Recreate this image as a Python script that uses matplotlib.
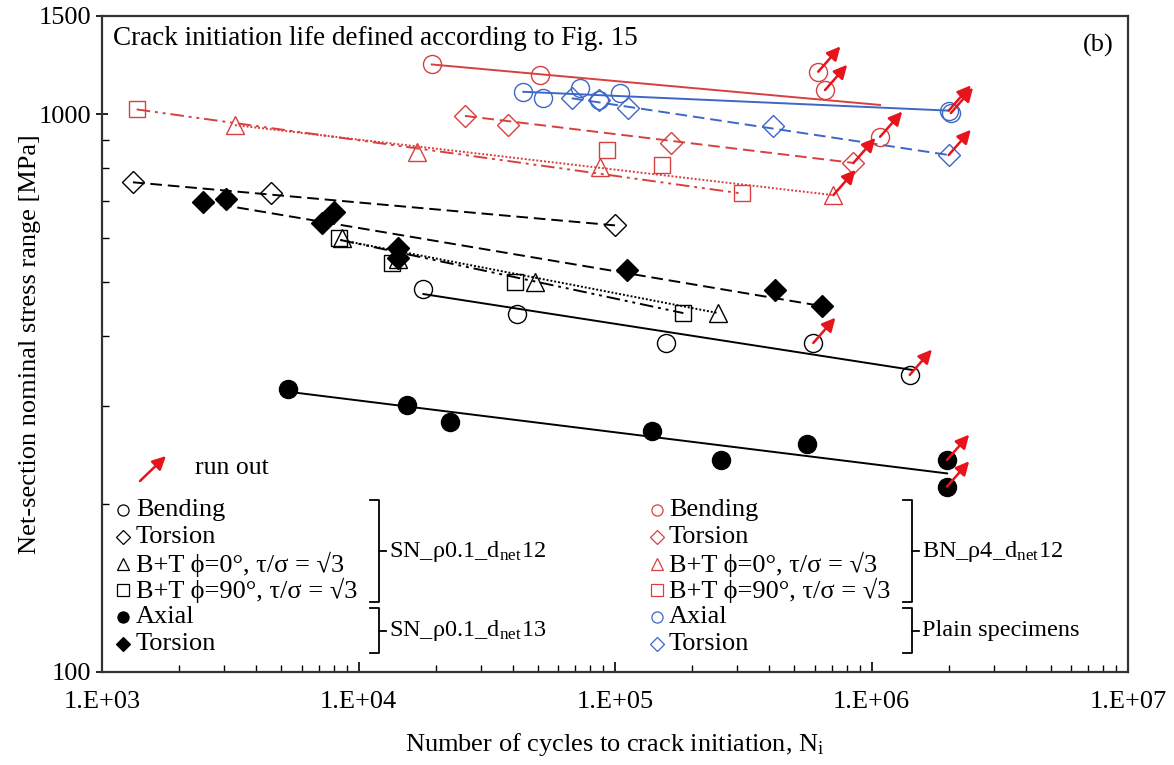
import matplotlib.pyplot as plt
import numpy as np

plt.rcParams['font.family'] = ['Liberation Serif', 'DejaVu Serif']
plt.rcParams['mathtext.fontset'] = 'stix'

# ---- data: N (cycles), S (MPa), run out flag ----
# SN_rho0.1_dnet12
sn_bend_N = [17900, 41400, 158000, 593000, 1410000]
sn_bend_S = [487, 438, 389, 389, 341]
sn_bend_ro = [0, 0, 0, 1, 1]
sn_tors_N = [1320, 4550, 100000]
sn_tors_S = [757, 723, 633]
sn_bt0_N = [8600, 14300, 48700, 252700]
sn_bt0_S = [601, 550, 501, 440]
sn_bt90_N = [8400, 13500, 40700, 184700]
sn_bt90_S = [601, 540, 501, 440]
# SN_rho0.1_dnet13
sn13_ax_N = [5320, 15400, 22700, 140000, 258000, 558000, 1970000, 1970000]
sn13_ax_S = [321, 301, 281, 270, 240, 256, 240, 215]
sn13_ax_ro = [0, 0, 0, 0, 0, 0, 1, 1]
sn13_tors_N = [2470, 3040, 7190, 8050, 14200, 14200, 111000, 420000, 639000]
sn13_tors_S = [697, 704, 637, 669, 575, 552, 526, 484, 453]
# BN_rho4_dnet12
bn_bend_N = [19300, 51000, 620000, 659000, 1080000]
bn_bend_S = [1228, 1176, 1192, 1105, 911]
bn_bend_ro = [0, 0, 1, 1, 1]
bn_tors_N = [26000, 38400, 166000, 849000]
bn_tors_S = [993, 956, 887, 817]
bn_tors_ro = [0, 0, 0, 1]
bn_bt0_N = [3300, 16900, 87400, 710000]
bn_bt0_S = [956, 857, 805, 716]
bn_bt0_ro = [0, 0, 0, 1]
bn_bt90_N = [1365, 92800, 152000, 312000]
bn_bt90_S = [1020, 863, 811, 721]
# plain specimens
pl_ax_N = [43900, 52600, 73000, 87000, 104600, 2000000, 2040000]
pl_ax_S = [1097, 1068, 1113, 1060, 1090, 1015, 1005]
pl_ax_ro = [0, 0, 0, 0, 0, 1, 1]
pl_tors_N = [67800, 87000, 112700, 414000, 2000000]
pl_tors_S = [1068, 1062, 1025, 952, 845]
pl_tors_ro = [0, 0, 0, 0, 1]

# fitted lines (start / end)
sn_bend_fit = ([17900, 1440000], [476, 348])
sn_tors_fit = ([1320, 100000], [755, 632])
sn_bt0_fit = ([8500, 252700], [595, 440])
sn_bt90_fit = ([8500, 184700], [595, 440])
sn13_ax_fit = ([5320, 1970000], [318, 227])
sn13_tors_fit = ([2470, 639000], [697, 453])
bn_bend_fit = ([19300, 1080000], [1228, 1039])
bn_tors_fit = ([26000, 849000], [993, 818])
bn_bt0_fit = ([3300, 710000], [956, 716])
bn_bt90_fit = ([1365, 312000], [1020, 721])
pl_ax_fit = ([43900, 2000000], [1097, 1015])
pl_tors_fit = ([67800, 2000000], [1068, 845])

RED = '#d8403f'
BLUE = '#3e66c6'
ARROW = '#e8141c'
FS = 19

fig = plt.figure(figsize=(11.74, 7.65), dpi=100)
ax = fig.add_axes([102 / 1174, 1 - 672 / 765, 1026 / 1174, 656 / 765])
ax.set_xscale('log')
ax.set_yscale('log')
ax.set_xlim(1e3, 1e7)
ax.set_ylim(100, 1500)


def series(N, S, fit, marker, color, ls, filled=False, ms=13):
    ax.plot(fit[0], fit[1], color=color, ls=ls, lw=1.4, zorder=2)
    ax.plot(N, S, ls='none', marker=marker, ms=ms, mew=1.0,
            mec=color, mfc=color if filled else 'none', zorder=3)


def runout(N, S, ro):
    for n, s, r in zip(N, S, ro):
        if r:
            ax.annotate('', xy=(n * 1.22, s * 1.11), xytext=(n, s),
                        arrowprops=dict(arrowstyle='-|>', color=ARROW, lw=1.8,
                                        mutation_scale=20, shrinkA=0, shrinkB=0),
                        zorder=5)


dashdot2 = (0, (7, 2.5, 1.5, 2.5, 1.5, 2.5))
series(sn_bend_N, sn_bend_S, sn_bend_fit, 'o', 'black', '-')
series(sn_tors_N, sn_tors_S, sn_tors_fit, 'D', 'black', (0, (6, 3)), ms=11)
series(sn_bt0_N, sn_bt0_S, sn_bt0_fit, '^', 'black', (0, (1, 1)))
series(sn_bt90_N, sn_bt90_S, sn_bt90_fit, 's', 'black', dashdot2, ms=12)
series(sn13_ax_N, sn13_ax_S, sn13_ax_fit, 'o', 'black', '-', filled=True)
series(sn13_tors_N, sn13_tors_S, sn13_tors_fit, 'D', 'black', (0, (6, 3)), filled=True, ms=11)
series(bn_bend_N, bn_bend_S, bn_bend_fit, 'o', RED, '-')
series(bn_tors_N, bn_tors_S, bn_tors_fit, 'D', RED, (0, (6, 3)), ms=11)
series(bn_bt0_N, bn_bt0_S, bn_bt0_fit, '^', RED, (0, (1, 1)))
series(bn_bt90_N, bn_bt90_S, bn_bt90_fit, 's', RED, dashdot2, ms=12)
series(pl_ax_N, pl_ax_S, pl_ax_fit, 'o', BLUE, '-')
series(pl_tors_N, pl_tors_S, pl_tors_fit, 'D', BLUE, (0, (6, 3)), ms=11)

runout(sn_bend_N, sn_bend_S, sn_bend_ro)
runout(sn13_ax_N, sn13_ax_S, sn13_ax_ro)
runout(bn_bend_N, bn_bend_S, bn_bend_ro)
runout(bn_tors_N, bn_tors_S, bn_tors_ro)
runout(bn_bt0_N, bn_bt0_S, bn_bt0_ro)
runout(pl_ax_N, pl_ax_S, pl_ax_ro)
runout(pl_tors_N, pl_tors_S, pl_tors_ro)

# ticks
ax.set_xticks([1e3, 1e4, 1e5, 1e6, 1e7])
ax.set_xticklabels(['1.E+03', '1.E+04', '1.E+05', '1.E+06', '1.E+07'])
ax.set_yticks([100, 1000, 1500])
ax.set_yticklabels(['100', '1000', '1500'])
ax.tick_params(which='both', direction='in', top=False, right=False, labelsize=FS)
ax.tick_params(which='major', length=7, width=1.2, pad=14)
ax.tick_params(which='minor', length=5, width=1.0)
ax.tick_params(axis='y', which='major', direction='inout', length=8, pad=4)
for sp in ax.spines.values():
    sp.set_linewidth(1.6)
    sp.set_color('#333333')

ax.set_xlabel(r'Number of cycles to crack initiation, N$_\mathregular{i}$', fontsize=FS, labelpad=13)
ax.set_ylabel('Net-section nominal stress range [MPa]', fontsize=FS, labelpad=-2)

ax.text(0.011, 0.966, 'Crack initiation life defined according to Fig. 15',
        transform=ax.transAxes, fontsize=19.5, va='center', ha='left')
ax.text(0.986, 0.955, '(b)', transform=ax.transAxes, fontsize=FS, va='center', ha='right')


# ---- legend drawn by hand (pixel positions of the reference) ----
def fx(px):
    return (px - 102) / 1026


def fy(py):
    return (672 - py) / 656


ax.annotate('', xy=(fx(166), fy(456)), xytext=(fx(140), fy(481)), xycoords='axes fraction',
            arrowprops=dict(arrowstyle='-|>', color=ARROW, lw=1.8, mutation_scale=20,
                            shrinkA=0, shrinkB=0))
ax.text(fx(195), fy(468), 'run out', transform=ax.transAxes, fontsize=18.5, va='center')

leg_labels = ['Bending', 'Torsion', 'B+T ϕ=0°, τ/σ = √3', 'B+T ϕ=90°, τ/σ = √3',
              'Axial', 'Torsion']
leg_markers = ['o', 'D', '^', 's', 'o', 'D']
leg_rows = [510, 537, 564, 590, 617, 644]
left_colors = ['black'] * 6
left_filled = [False, False, False, False, True, True]
right_colors = [RED, RED, RED, RED, BLUE, BLUE]

for lab, mk, row, lc, lf, rc in zip(leg_labels, leg_markers, leg_rows,
                                    left_colors, left_filled, right_colors):
    ms = 8 if mk != 'D' else 7
    ax.plot(fx(123), fy(row), marker=mk, ms=ms, mec=lc, mfc=lc if lf else 'none',
            mew=0.9, transform=ax.transAxes, clip_on=False)
    ax.text(fx(136), fy(row), lab, transform=ax.transAxes, fontsize=FS, va='center')
    ax.plot(fx(657), fy(row), marker=mk, ms=ms, mec=rc, mfc='none',
            mew=0.9, transform=ax.transAxes, clip_on=False)
    ax.text(fx(669), fy(row), lab, transform=ax.transAxes, fontsize=FS, va='center')


def bracket(px, top, bottom, label):
    mid = (top + bottom) / 2
    xs = [fx(px - 9), fx(px), fx(px), fx(px - 9)]
    ys = [fy(top), fy(top), fy(bottom), fy(bottom)]
    ax.plot(xs, ys, color='black', lw=1.3, transform=ax.transAxes)
    ax.plot([fx(px), fx(px + 7)], [fy(mid), fy(mid)], color='black', lw=1.3,
            transform=ax.transAxes)
    ax.text(fx(px + 10), fy(mid), label, transform=ax.transAxes, fontsize=17.5, va='center')


bracket(379, 500, 602, r'SN_ρ0.1_d$_\mathregular{net}$12')
bracket(379, 608, 653, r'SN_ρ0.1_d$_\mathregular{net}$13')
bracket(912, 500, 602, r'BN_ρ4_d$_\mathregular{net}$12')
bracket(912, 608, 653, 'Plain specimens')

fig.savefig('out.png', dpi=100)
